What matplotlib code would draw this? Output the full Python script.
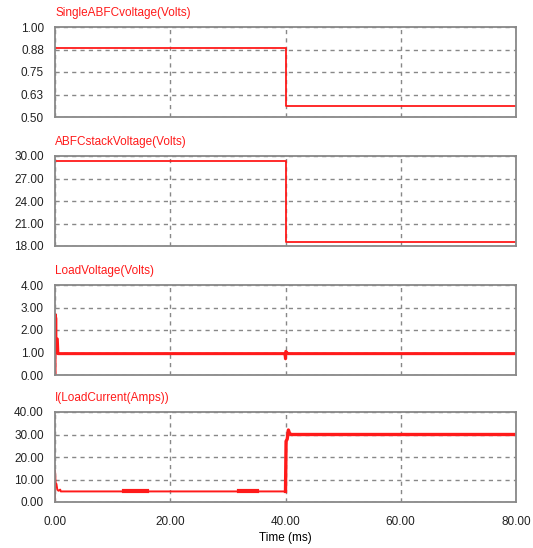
import matplotlib.pyplot as plt

plt.rcParams['font.family'] = ['Liberation Sans', 'DejaVu Sans']

# cell voltage
t_cell = [0.0, 40.0, 40.0, 80.0]
v_cell = [0.885, 0.885, 0.562, 0.562]

# stack voltage
t_stack = [0.0, 40.0, 40.0, 80.0]
v_stack = [29.3, 29.3, 18.6, 18.6]

# load voltage
t_load = [0.0, 0.0, 0.15, 0.15, 0.4, 0.5, 39.8, 39.9, 40.0, 40.05, 40.2, 40.4, 80.0]
v_load = [0.0, 2.7, 2.5, 1.65, 1.6, 0.95, 0.95, 0.95, 0.72, 1.05, 1.0, 0.95, 0.95]

# load current
t_cur = [0.0, 0.0, 0.1, 0.25, 0.4, 0.6, 0.9, 1.0, 1.3, 40.0, 40.1, 40.3, 40.5, 40.7, 41.0, 80.0]
i_cur = [0.0, 14.0, 8.5, 8.0, 5.5, 5.0, 5.5, 4.7, 4.7, 4.7, 27.0, 28.0, 32.0, 30.5, 30.0, 30.0]
# ripple bands on the current trace
ripple_t = [[12.0, 16.0], [32.0, 35.0]]
ripple_i = [[4.9, 4.9], [4.9, 4.9]]

titles = ['SingleABFCvoltage(Volts)', 'ABFCstackVoltage(Volts)',
          'LoadVoltage(Volts)', 'I(LoadCurrent(Amps))']
yticks = [[0.5, 0.625, 0.75, 0.875, 1.0], [18, 21, 24, 27, 30],
          [0, 1, 2, 3, 4], [0, 10, 20, 30, 40]]
ylabels = [['0.50', '0.63', '0.75', '0.88', '1.00'],
           ['18.00', '21.00', '24.00', '27.00', '30.00'],
           ['0.00', '1.00', '2.00', '3.00', '4.00'],
           ['0.00', '10.00', '20.00', '30.00', '40.00']]
xticks = [0, 20, 40, 60, 80]
xlabels = ['0.00', '20.00', '40.00', '60.00', '80.00']

red = '#ff1a1a'
W, H = 533, 548
fig = plt.figure(figsize=(W / 100, H / 100), dpi=100)

left, right = 55, 516
bottoms = [117, 246, 375, 502]
hgt = 90
axes = []
for b in bottoms:
    ax = fig.add_axes([left / W, (H - b) / H, (right - left) / W, hgt / H])
    axes.append(ax)

axes[0].plot(t_cell, v_cell, color=red, lw=1.3)
axes[1].plot(t_stack, v_stack, color=red, lw=1.3)
axes[2].plot(t_load, v_load, color=red, lw=2.2)
axes[3].plot(t_cur[:10], i_cur[:10], color=red, lw=1.4)
axes[3].plot(t_cur[9:], i_cur[9:], color=red, lw=2.4)
for rt, ri in zip(ripple_t, ripple_i):
    axes[3].plot(rt, ri, color=red, lw=3.0)

for k, ax in enumerate(axes):
    ax.set_xlim(0, 80)
    ax.set_ylim(yticks[k][0], yticks[k][-1])
    ax.set_yticks(yticks[k])
    ax.set_yticklabels(ylabels[k])
    ax.set_xticks(xticks)
    if k == 3:
        ax.set_xticklabels(xlabels)
        ax.set_xlabel('Time (ms)', fontsize=8.5, labelpad=3)
    else:
        ax.set_xticklabels([])
    ax.tick_params(length=0, labelsize=8.5, colors='#222222', pad=8)
    ax.tick_params(axis='x', pad=10)
    ax.grid(True, color='#888888', ls=(0, (3, 3)), lw=1.0)
    for s in ax.spines.values():
        s.set_color('#888888')
        s.set_linewidth(1.3)
    ax.text(0, 1.09, titles[k], transform=ax.transAxes, color=red,
            fontsize=8.5, ha='left', va='bottom')

fig.savefig('out.png', dpi=100)
